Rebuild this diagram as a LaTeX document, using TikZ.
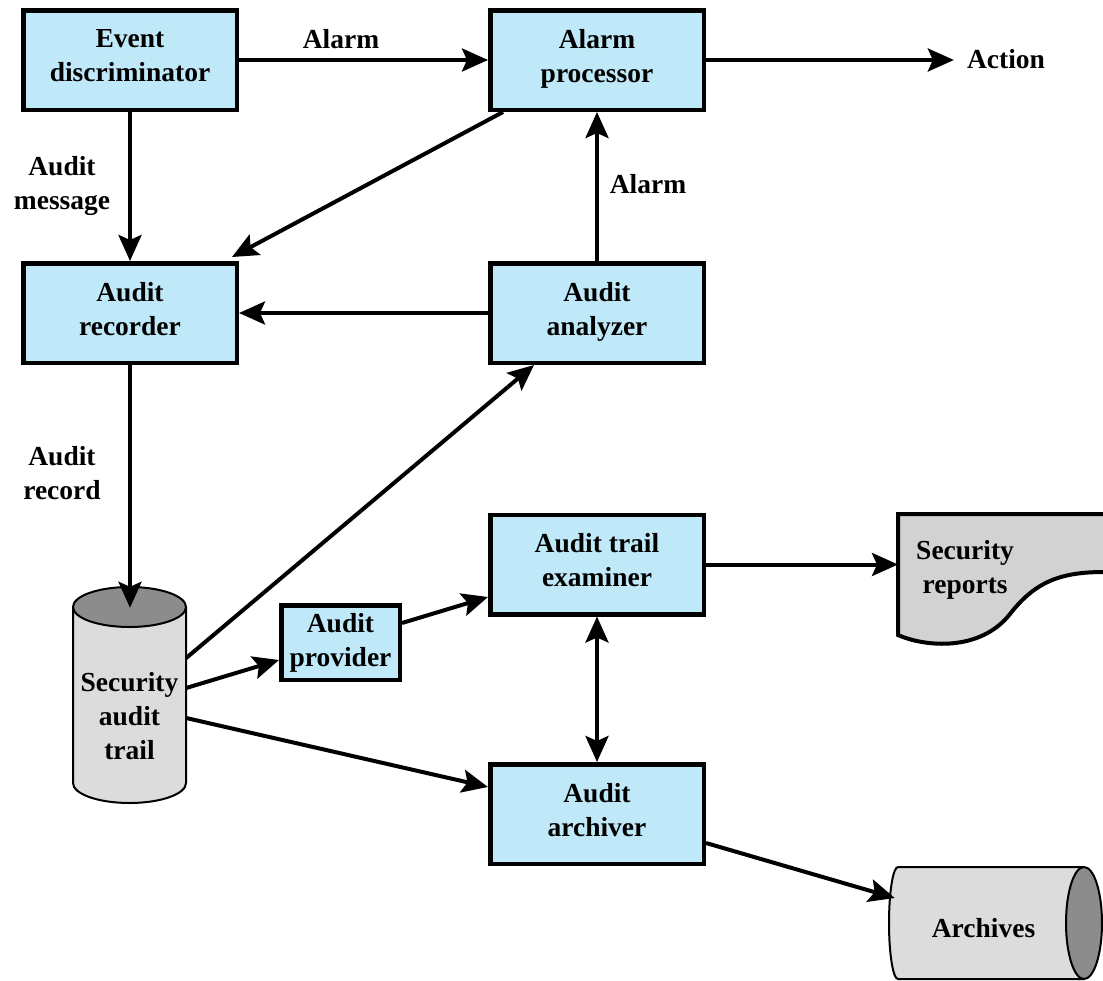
\documentclass[tikz,border=0pt]{standalone}
\usepackage{fontspec}
\setmainfont{Liberation Serif}[BoldFont={Liberation Serif Bold}]
\usetikzlibrary{arrows.meta,calc}
\definecolor{boxblue}{RGB}{191,233,248}
\definecolor{cylgray}{RGB}{220,220,220}
\definecolor{topgray}{RGB}{140,140,140}
\definecolor{repgray}{RGB}{210,210,210}
\begin{document}
\begin{tikzpicture}[x=1pt,y=1pt,
  lbl/.style={font=\fontsize{27.5}{34}\selectfont\bfseries, inner sep=0pt, align=center},
  box/.style={draw, line width=4.5pt, fill=boxblue, minimum width=213.5pt, minimum height=99.5pt,
    inner sep=0pt, align=center, text depth=9pt, font=\fontsize{27.5}{34}\selectfont\bfseries},
  arr/.style={line width=4pt, -{Stealth[length=26pt,width=23pt,inset=5pt]}},
  darr/.style={line width=4pt, {Stealth[length=26pt,width=23pt,inset=5pt]}-{Stealth[length=26pt,width=23pt,inset=5pt]}},
]
\useasboundingbox (0,0) rectangle (1103,-980);

% shapes
\draw[line width=4pt, fill=repgray] (1104,-514) -- (898,-514) -- (898,-635)
  .. controls (925,-647) and (980,-652) .. (1010,-614)
  .. controls (1035,-582) and (1060,-572) .. (1104,-572);
\draw[line width=2pt, fill=cylgray] (73,-607) -- (73,-783)
  arc[start angle=180,end angle=360,x radius=56.5,y radius=20] -- (186,-607);
\draw[line width=2pt, fill=topgray] (129.5,-607) ellipse [x radius=56.5, y radius=20];
\draw[line width=2pt, fill=cylgray] (1084,-867) -- (898,-867)
  arc[start angle=90,end angle=270,x radius=9,y radius=56] -- (1084,-979);
\draw[line width=2pt, fill=topgray] (1084,-923) ellipse [x radius=18, y radius=56];

% boxes
\node[box] (ed) at (130,-60) {Event\\discriminator};
\node[box] (ap) at (597,-60) {Alarm\\processor};
\node[box] (rec) at (130,-313) {Audit\\recorder};
\node[box] (ana) at (597,-313) {Audit\\analyzer};
\node[box] (ex) at (597,-564.5) {Audit trail\\examiner};
\node[box] (archv) at (597,-814) {Audit\\archiver};
\node[box, minimum width=118.5pt, minimum height=74.5pt, text depth=6pt] (prov) at (340.5,-642.5) {Audit\\provider};

% shape texts
\node[lbl, minimum width=113pt, minimum height=217pt] (sat) at (129.5,-716.5) {Security\\audit\\trail};
\node[lbl, anchor=west, inner xsep=18pt] (srep) at (898,-570) {Security\\reports};
\node[lbl, minimum width=177pt, minimum height=112pt] (arch) at (983.5,-928) {Archives};

% labels
\node[lbl, anchor=base] (lal1) at (341,-48) {Alarm};
\node[lbl] (lmsg) at (62,-186) {Audit\\message};
\node[lbl, anchor=base] (lal2) at (648,-193) {Alarm};
\node[lbl] (lrec) at (62,-473) {Audit\\record};
\node[lbl, anchor=base] (act) at (1006,-68) {Action};

% connectors
\draw[arr] (ed.east) -- (ap.west);
\draw[arr] (ed.south) -- (rec.north -| ed.south);
\draw[arr] (ap.east) -- ($(ap.east -| act.west)+(-13,0)$);
\draw[arr] ([xshift=15pt]ap.south west) -- ([xshift=-7pt,yshift=4pt]rec.north east);
\draw[arr] (ana.north) -- (ap.south);
\draw[arr] (ana.west) -- (rec.east);
\draw[arr] (rec.south) -- (rec.south |- sat.north);
\draw[arr] ([yshift=58.5pt]sat.east) -- ([xshift=46pt]ana.south west);
\draw[arr] ([yshift=28.5pt]sat.east) -- ([yshift=-17.5pt]prov.west);
\draw[arr] ([yshift=19.5pt]prov.east) -- ([yshift=-32.5pt]ex.west);
\draw[arr] ([yshift=-1.5pt]sat.east) -- ([yshift=27pt]archv.west);
\draw[darr] (ex.south) -- (archv.north);
\draw[arr] (ex.east) -- (ex.east -| srep.west);
\draw[arr] ([yshift=-29pt]archv.east) -- ([yshift=30pt]arch.west);
\end{tikzpicture}
\end{document}
